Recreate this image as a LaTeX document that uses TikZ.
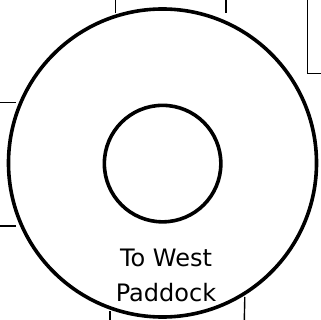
\documentclass[tikz,border=0pt]{standalone}
\usepackage{fontspec}
\setmainfont{DejaVu Sans}
\begin{document}
\begin{tikzpicture}[x=1pt,y=-1pt,
  ring/.style={draw=black,line width=3.6pt,circle,inner sep=0pt},
  stub/.style={draw=black,line width=1.4pt},
  lbl/.style={font=\fontsize{24}{28}\selectfont,anchor=base,inner sep=0pt}]
\useasboundingbox (0,0) rectangle (321,320);
\fill[white] (0,0) rectangle (321,320);
% stubs of surrounding features
\draw[stub] (115.7,0) -- (115.7,13);
\draw[stub] (226,0) -- (226,13);
\draw[stub] (307.3,0) -- (307.3,73.3) -- (321,73.3);
\draw[stub] (0,102.7) -- (16,102.7);
\draw[stub] (0,226) -- (16,226);
\draw[stub] (110,311) -- (110,320);
\draw[stub] (244.8,297) -- (244.3,320);
% circles
\node[ring,minimum size=308pt] (outer) at (162.5,163) {};
\node[ring,minimum size=116.5pt] (inner) at (162.6,163.6) {};
% label
\node[lbl] (lab1) at (166,266) {To West};
\node[lbl] (lab2) at (166,301) {Paddock};
\end{tikzpicture}
\end{document}
